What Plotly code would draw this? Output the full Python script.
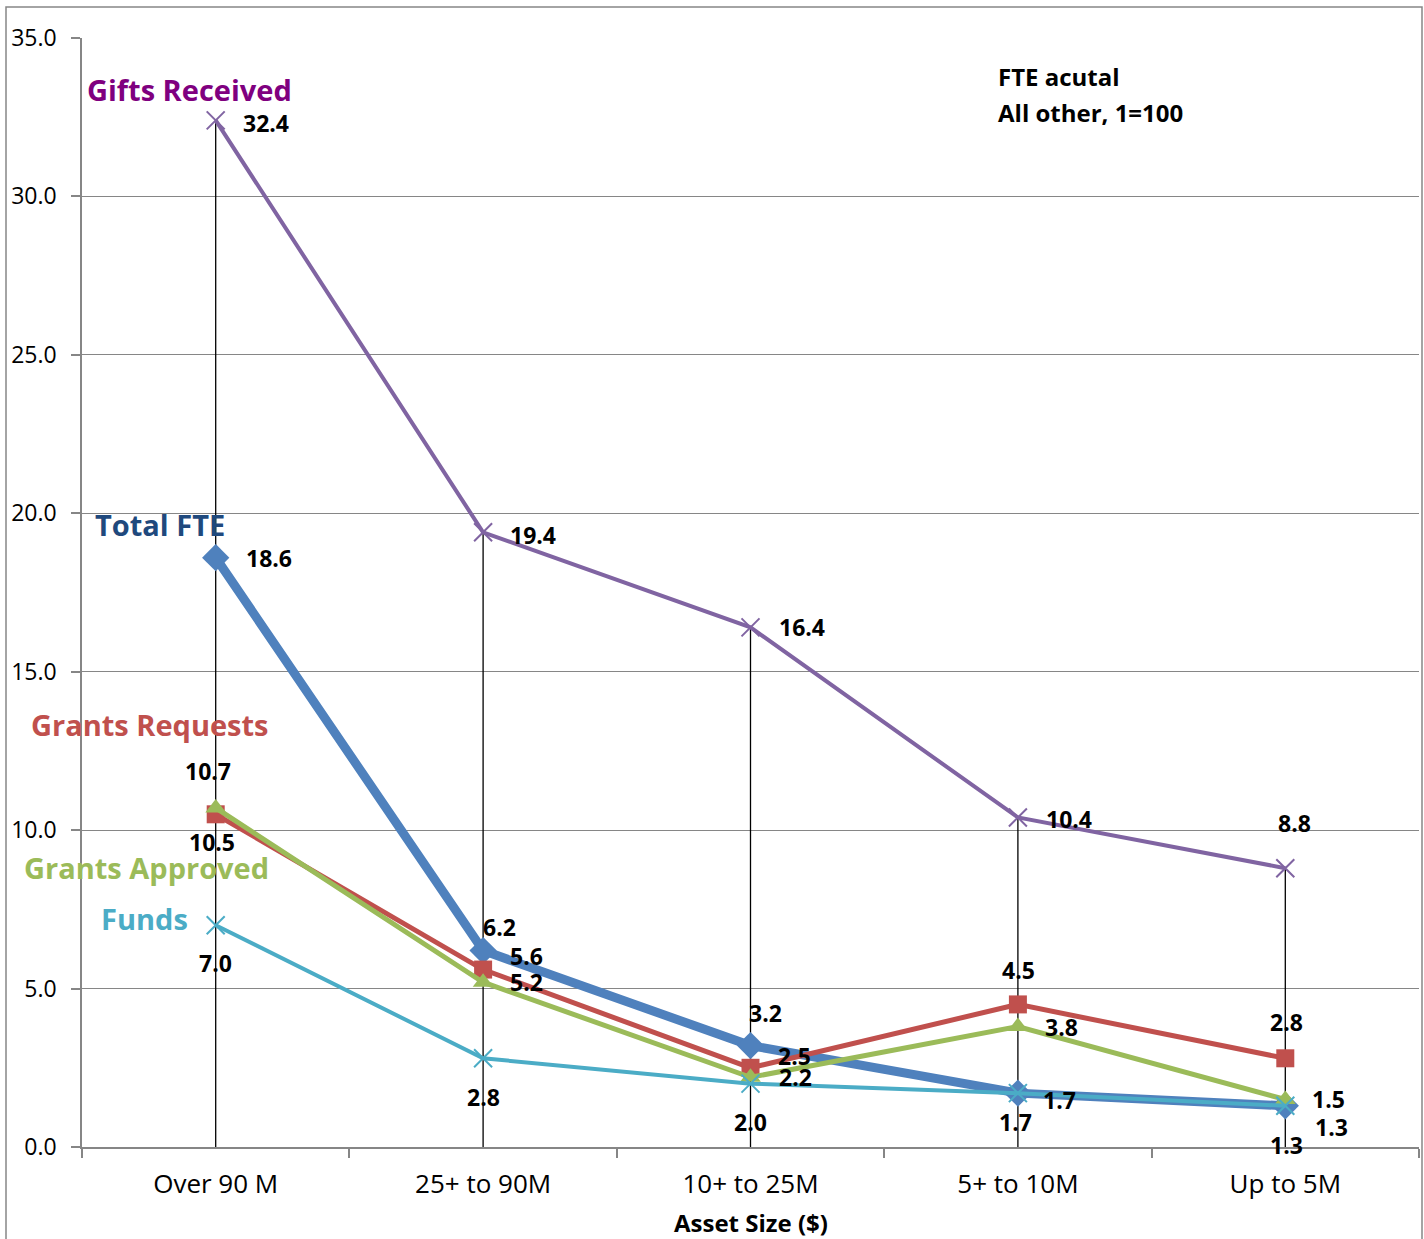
import plotly.graph_objects as go

categories = ["Over 90 M", "25+ to 90M", "10+ to 25M", "5+ to 10M", "Up to 5M"]
total_fte = [18.6, 6.2, 3.2, 1.7, 1.3]
grants_requests = [10.5, 5.6, 2.5, 4.5, 2.8]
grants_approved = [10.7, 5.2, 2.2, 3.8, 1.5]
gifts_received = [32.4, 19.4, 16.4, 10.4, 8.8]
funds = [7.0, 2.8, 2.0, 1.7, 1.3]
y_ticks = [0, 5, 10, 15, 20, 25, 30, 35]

FONT = "Open Sans"
GRID = "#868686"

# data label placement (anchor, x shift, y shift) like the Excel layout
fte_lbl = [("l", 28, 0), ("c", 16, 24), ("c", 15, 33), ("l", 23, -7), ("l", 28, -21)]
req_lbl = [("c", -4, -28), ("l", 25, 14), ("l", 25, 12), ("c", 1, 34), ("c", 1, 36)]
app_lbl = [("c", -8, 37), ("l", 25, 0), ("l", 26, 0), ("l", 25, 0), ("l", 25, 0)]
gift_lbl = [("l", 25, -3), ("l", 25, -3), ("l", 26, 0), ("l", 26, -2), ("c", 9, 45)]
fund_lbl = [("c", 0, -38), ("c", 0, -39), ("c", 0, -38), ("c", -2, -29), ("c", 1, -39)]

fig = go.Figure()

# drop lines from the top series down to the axis
drop_x, drop_y = [], []
for c, v in zip(categories, gifts_received):
    drop_x += [c, c, None]
    drop_y += [0, v, None]
fig.add_trace(go.Scatter(x=drop_x, y=drop_y, mode="lines",
                         line=dict(color="black", width=1.3), hoverinfo="skip"))


def series(y, color, width, symbol, msize, labels, mline=0):
    fig.add_trace(go.Scatter(
        x=categories, y=y, mode="lines+markers",
        line=dict(color=color, width=width),
        marker=dict(symbol=symbol, size=msize, color=color,
                    line=dict(color=color, width=mline)),
        cliponaxis=False, hoverinfo="skip",
    ))
    for c, v, (anc, dx, dy) in zip(categories, y, labels):
        fig.add_annotation(x=c, y=v, text=f"{v:.1f}", showarrow=False,
                           xanchor="left" if anc == "l" else "center",
                           yanchor="middle", xshift=dx, yshift=dy,
                           font=dict(family=FONT, size=23, color="black", weight="bold"))


series(total_fte, "#4F81BD", 9, "diamond", 21, fte_lbl)
series(grants_requests, "#C0504D", 5, "square", 18, req_lbl)
series(grants_approved, "#9BBB59", 5, "triangle-up", 18, app_lbl)
series(gifts_received, "#8064A2", 4, "x-thin-open", 18, gift_lbl, mline=2)
series(funds, "#4BACC6", 4, "x-thin-open", 18, fund_lbl, mline=2)

# series name labels
names = [
    ("Gifts Received", "#7F007F", 0.0804, 33.39),
    ("Total FTE", "#1F497D", 0.0583, 19.66),
    ("Grants Requests", "#C0504D", 0.0509, 13.32),
    ("Grants Approved", "#9BBB59", 0.0486, 8.81),
    ("Funds", "#4BACC6", 0.0464, 7.20),
]
for txt, col, xp, yv in names:
    fig.add_annotation(text=txt, x=xp, y=yv, xref="paper", yref="y",
                       showarrow=False, xanchor="center", yanchor="middle",
                       font=dict(family=FONT, size=29, color=col, weight="bold"))

fig.add_annotation(text="FTE acutal", x=0.6836, y=(1147 - 76) / 1109,
                   xref="paper", yref="paper", showarrow=False,
                   xanchor="left", yanchor="middle",
                   font=dict(family=FONT, size=24, color="black", weight="bold"))
fig.add_annotation(text="All other, 1=100", x=0.6836, y=(1147 - 112) / 1109,
                   xref="paper", yref="paper", showarrow=False,
                   xanchor="left", yanchor="middle",
                   font=dict(family=FONT, size=24, color="black", weight="bold"))
fig.add_annotation(text="Asset Size ($)", x=0.5, y=(1147 - 1222) / 1109,
                   xref="paper", yref="paper", showarrow=False,
                   xanchor="center", yanchor="middle",
                   font=dict(family=FONT, size=24, color="black", weight="bold"))

# outer chart border
fig.add_shape(type="rect", xref="paper", yref="paper",
              x0=(6 - 82) / 1337, x1=(1422 - 82) / 1337,
              y0=-0.1, y1=(1147 - 7) / 1109,
              line=dict(color=GRID, width=1.5), fillcolor="rgba(0,0,0,0)")

fig.update_layout(
    width=1424, height=1239,
    margin=dict(l=82, r=5, t=38, b=92),
    paper_bgcolor="white", plot_bgcolor="white",
    showlegend=False,
    font=dict(family=FONT, color="black"),
    xaxis=dict(type="category", range=[-0.5, 4.5], tickson="boundaries",
               ticks="outside", ticklen=9, tickcolor=GRID, tickwidth=1.5,
               showline=True, linecolor=GRID, linewidth=1.5,
               showgrid=False, tickfont=dict(size=26), ticklabelstandoff=13),
    yaxis=dict(range=[0, 35], tickvals=y_ticks, tickformat=".1f",
               ticks="outside", ticklen=9, tickcolor=GRID, tickwidth=1.5,
               showline=True, linecolor=GRID, linewidth=1.5,
               showgrid=True, gridcolor=GRID, gridwidth=1.3,
               zeroline=False, tickfont=dict(size=23), ticklabelstandoff=10),
)

fig.write_html("out.html", config={"displayModeBar": False},
               post_script="document.body.style.margin='0';document.body.style.overflow='hidden';")
